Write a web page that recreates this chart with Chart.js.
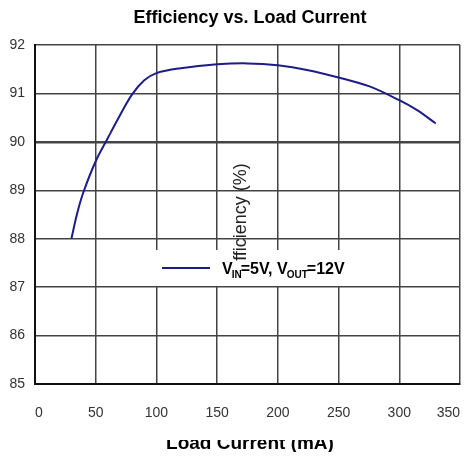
<!DOCTYPE html>
<html>
<head>
<meta charset="utf-8">
<script src="https://cdn.jsdelivr.net/npm/chart.js@4.4.0/dist/chart.umd.min.js"></script>
<style>
  html, body { margin: 0; padding: 0; background: #fff; }
  #wrap { width: 468px; height: 456px; position: relative; }
</style>
</head>
<body>
<div id="wrap"><canvas id="chart" width="468" height="456"></canvas></div>
<script>
// values
const loadCurrent = [30, 35, 40, 50, 60, 70, 80, 90, 100, 120, 150, 175, 200, 225, 250, 275, 300, 315, 330];
const efficiency = [88.0, 88.55, 88.97, 89.6, 90.08, 90.55, 90.98, 91.27, 91.42, 91.52, 91.6, 91.62, 91.58, 91.48, 91.33, 91.15, 90.86, 90.65, 90.38];
const seriesLabel = ['V', 'IN', '=5V, V', 'OUT', '=12V'];  // text, subscript, text, subscript, text

const chartTitle = 'Efficiency vs. Load Current';
const xTitle = 'Load Current (mA)';
const yTitle = 'Efficiency (%)';

const FONT = '"Liberation Sans", Arial, sans-serif';

// draws title, the odd mid-chart y title and the legend box
const decorPlugin = {
  id: 'decor',
  afterDraw(chart) {
    const ctx = chart.ctx;
    const ds = chart.data.datasets[0];
    ctx.save();

    // chart title
    ctx.fillStyle = '#000';
    ctx.font = 'bold 18px ' + FONT;
    ctx.textAlign = 'center';
    ctx.textBaseline = 'middle';
    ctx.fillText(chartTitle, 250, 18);

    // x title, only a strip of it shows in the original
    ctx.save();
    ctx.beginPath();
    ctx.rect(0, 440, chart.width, 12);
    ctx.clip();
    ctx.font = 'bold 19px ' + FONT;
    ctx.textBaseline = 'alphabetic';
    ctx.fillText(xTitle, 250, 449);
    ctx.restore();

    // legend background
    ctx.fillStyle = '#fff';
    ctx.fillRect(156, 250, 213, 36);

    // y title sits in the middle of the plot, its first letter hidden by the legend
    ctx.save();
    ctx.beginPath();
    ctx.rect(0, 0, chart.width, 261);
    ctx.clip();
    ctx.translate(241, 218);
    ctx.rotate(-Math.PI / 2);
    ctx.fillStyle = '#222';
    ctx.font = '18px ' + FONT;
    ctx.fillText(yTitle, 0, 0);
    ctx.restore();

    // legend line + label with subscripts
    ctx.strokeStyle = ds.borderColor;
    ctx.lineWidth = 2;
    ctx.beginPath();
    ctx.moveTo(162, 268);
    ctx.lineTo(210, 268);
    ctx.stroke();

    ctx.fillStyle = '#000';
    ctx.textAlign = 'left';
    ctx.textBaseline = 'alphabetic';
    let x = 222;
    seriesLabel.forEach((part, i) => {
      if (i % 2 === 1) {
        ctx.font = 'bold 10px ' + FONT;
        ctx.fillText(part, x - 1, 278);
        x += ctx.measureText(part).width - 2;
      } else {
        ctx.font = 'bold 16px ' + FONT;
        ctx.fillText(part, x, 274);
        x += ctx.measureText(part).width;
      }
    });

    ctx.restore();
  }
};

new Chart(document.getElementById('chart'), {
  type: 'line',
  data: {
    datasets: [{
      label: seriesLabel.join(''),
      data: loadCurrent.map((v, i) => ({ x: v, y: efficiency[i] })),
      borderColor: '#1c1c8a',
      borderWidth: 2,
      pointRadius: 0,
      tension: 0.35,
      fill: false
    }]
  },
  options: {
    responsive: false,
    animation: false,
    layout: { padding: { top: 45, right: 8, left: 0, bottom: 0 } },
    plugins: {
      legend: { display: false },
      title: { display: false },
      tooltip: { enabled: false }
    },
    scales: {
      x: {
        type: 'linear',
        min: 0,
        max: 350,
        ticks: { stepSize: 50, padding: 21, align: 'inner', color: '#333', font: { size: 14, family: FONT } },
        grid: { color: '#444', lineWidth: 1.5, drawTicks: false },
        border: { color: '#111', width: 2 },
        afterFit(scale) {
          scale.height = 72;
          scale.paddingLeft = 0;
          scale.paddingRight = 0;
        }
      },
      y: {
        min: 85,
        max: 92,
        ticks: { stepSize: 1, padding: 10, color: '#333', font: { size: 14, family: FONT } },
        grid: {
          color: '#444',
          lineWidth: (c) => (c.tick && c.tick.value === 90 ? 2.5 : 1.5),
          drawTicks: false
        },
        border: { color: '#111', width: 2 },
        afterFit(scale) {
          scale.width = 35;
          scale.paddingTop = 0;
          scale.paddingBottom = 0;
        }
      }
    }
  },
  plugins: [decorPlugin]
});
</script>
</body>
</html>
